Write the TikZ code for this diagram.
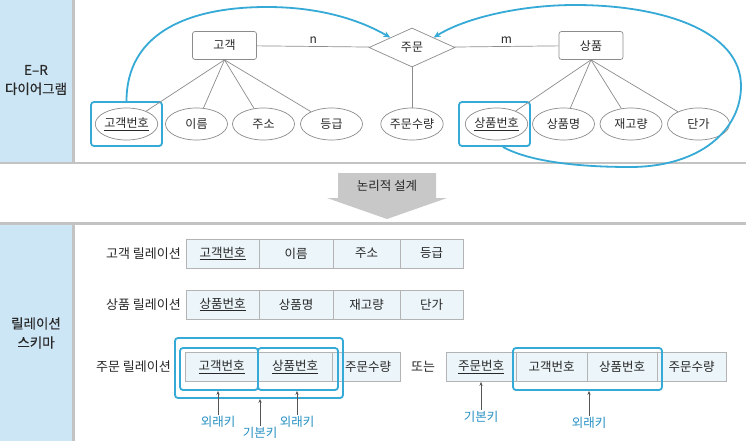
\documentclass[tikz,border=0pt]{standalone}
\usepackage{fontspec}
\setmainfont{Noto Sans CJK KR}
\newfontfamily\bandfont[FakeBold=0.3]{Noto Sans CJK KR}
\usetikzlibrary{shapes.geometric,arrows.meta}
\definecolor{band}{RGB}{204,230,246}
\definecolor{sepgray}{RGB}{195,195,195}
\definecolor{kblue}{RGB}{54,170,214}
\definecolor{ktext}{RGB}{40,40,40}
\definecolor{cellfill}{RGB}{236,245,249}
\definecolor{cellline}{RGB}{180,180,180}
\definecolor{lblue}{RGB}{41,146,196}
\definecolor{erline}{RGB}{140,140,140}
\definecolor{bigarrow}{RGB}{200,200,200}
\definecolor{smallarrow}{RGB}{85,85,85}
\tikzset{
  base/.style={font=\fontsize{12}{14}\selectfont, text=ktext},
  entity/.style={base, draw=erline, fill=white, rounded corners=2.5pt, minimum width=64, minimum height=28, inner sep=0pt, line width=0.7pt},
  relship/.style={base, diamond, aspect=2.2, draw=erline, fill=white, minimum width=86, minimum height=39, inner sep=0pt, line width=0.7pt},
  attr/.style={base, ellipse, draw=erline, fill=white, minimum width=62, minimum height=32, inner sep=0pt, line width=0.7pt},
  erl/.style={draw=erline, line width=0.7pt},
  keybox/.style={draw=kblue, line width=1.8pt, rounded corners=3pt, inner sep=0pt},
  loopline/.style={draw=kblue, line width=1.8pt, -{Stealth[length=7pt,width=6pt]}},
  cell/.style={base, draw=cellline, fill=cellfill, minimum height=29, inner sep=0pt, line width=0.8pt, font=\fontsize{12.5}{14}\selectfont},
  rellab/.style={base, anchor=east, inner sep=0pt, font=\fontsize{13}{15}\selectfont},
  keylab/.style={text=lblue, font=\fontsize{12.5}{14}\selectfont, inner sep=1.5pt},
  keyarrow/.style={draw=smallarrow, line width=0.6pt, -{Stealth[length=4pt,width=3.2pt]}},
  bandlab/.style={font=\bandfont\fontsize{13.5}{19}\selectfont, text=ktext, align=center},
  cardlab/.style={base, inner sep=1pt}
}
\begin{document}
\begin{tikzpicture}[x=1pt,y=-1pt]
\useasboundingbox (0,0) rectangle (746,441);
\fill[white] (0,0) rectangle (746,441);
% bands and separators
\fill[band] (0,0) rectangle (72,163);
\fill[band] (0,224) rectangle (72,441);
\fill[sepgray] (72,0) rectangle (74.5,163);
\fill[sepgray] (72,224) rectangle (74.5,441);
\fill[sepgray] (0,161.8) rectangle (746,164.2);
\fill[sepgray] (0,222.3) rectangle (746,224.7);
\node[bandlab] (erband) at (36,80) {E–R\\다이어그램};
\node[bandlab] (rsband) at (36,333) {릴레이션\\스키마};

% E-R diagram
\node[entity] (cust) at (224.5,45.5) {고객};
\node[entity] (prod) at (591,45.5) {상품};
\node[relship] (rel) at (412,47.5) {주문};
\node[attr] (a1) at (126.5,124) {\underline{고객번호}};
\node[attr] (a2) at (196.5,124) {이름};
\node[attr] (a3) at (263.5,124) {주소};
\node[attr] (a4) at (331.5,124) {등급};
\node[attr] (oq) at (412,124) {주문수량};
\node[attr] (b1) at (496.5,124) {\underline{상품번호}};
\node[attr] (b2) at (563.5,124) {상품명};
\node[attr] (b3) at (631,124) {재고량};
\node[attr] (b4) at (698.5,124) {단가};
\node[keybox, minimum width=71, minimum height=44] (k1) at (126.5,124) {};
\node[keybox, minimum width=71, minimum height=44] (k2) at (494.5,124) {};

\draw[erl] (cust) -- node[cardlab, above=2pt] {n} (rel);
\draw[erl] (rel) -- node[cardlab, above=2pt] {m} (prod);
\draw[erl] (rel) -- (oq);
\foreach \t in {a1,a2,a3,a4} \draw[erl] (cust.south) -- (\t);
\foreach \t in {b1,b2,b3,b4} \draw[erl] (prod.south) -- (\t);

\draw[loopline] (k1.north) .. controls (126.5,35) and (185,7) .. (267,7)
  .. controls (320,7) and (360,20) .. (rel.north west);
\draw[loopline] (k2.290) .. controls (530,162) and (580,167) .. (630,167)
  .. controls (700,167) and (741,130) .. (741,86)
  .. controls (741,30) and (660,5) .. (575,5)
  .. controls (520,5) and (465,18) .. (rel.north east);

% logical design arrow
\fill[bigarrow] (338,173) -- (436,173) -- (436,198) -- (447,198) -- (387,219) -- (327,198) -- (338,198) -- cycle;
\node[base, font=\fontsize{12.5}{14}\selectfont] (design) at (387,186) {논리적 설계};

% relation schema
\node[rellab] (lc) at (181,253.5) {고객 릴레이션};
\node[cell, minimum width=73] (c1) at (222.5,253.5) {\underline{고객번호}};
\node[cell, minimum width=74] (c2) at (296,253.5) {이름};
\node[cell, minimum width=67] (c3) at (366.5,253.5) {주소};
\node[cell, minimum width=63] (c4) at (431.5,253.5) {등급};

\node[rellab] (lp) at (181,304.5) {상품 릴레이션};
\node[cell, minimum width=73] (p1) at (222.5,304.5) {\underline{상품번호}};
\node[cell, minimum width=74] (p2) at (296,304.5) {상품명};
\node[cell, minimum width=67] (p3) at (366.5,304.5) {재고량};
\node[cell, minimum width=63] (p4) at (431.5,304.5) {단가};

\node[rellab] (lo) at (171,367) {주문 릴레이션};
\node[cell, minimum width=73] (d1) at (221.5,367) {\underline{고객번호}};
\node[cell, minimum width=74] (d2) at (295,367) {\underline{상품번호}};
\node[cell, minimum width=68] (d3) at (366,367) {\hspace*{4pt}주문수량};
\node[base, font=\fontsize{13}{15}\selectfont] (or) at (423,367) {또는};
\node[cell, minimum width=70] (e1) at (481,367) {\underline{주문번호}};
\node[cell, minimum width=71] (e2) at (551.5,367) {고객번호};
\node[cell, minimum width=70] (e3) at (622,367) {상품번호};
\node[cell, minimum width=69] (e4) at (691.5,367) {주문수량};

\node[keybox, minimum width=168, minimum height=60] (o1) at (259,368) {};
\node[keybox, minimum width=78, minimum height=42] (i1) at (219,369) {};
\node[keybox, minimum width=80, minimum height=42] (i2) at (298,369) {};
\node[keybox, minimum width=149, minimum height=42] (f1) at (587.5,369) {};

\node[keylab] (fk1) at (218,422) {외래키};
\node[keylab] (pk1) at (260,433) {기본키};
\node[keylab] (fk2) at (297,422) {외래키};
\node[keylab] (pk2) at (481,417) {기본키};
\node[keylab] (fk3) at (589,423) {외래키};
\draw[keyarrow] (fk1.north) -- (fk1.north |- i1.south);
\draw[keyarrow] (pk1.north) -- (pk1.north |- o1.south);
\draw[keyarrow] (fk2.north) -- (fk2.north |- i2.south);
\draw[keyarrow] (pk2.north) -- (pk2.north |- e1.south);
\draw[keyarrow] (fk3.north) -- (fk3.north |- f1.south);
\end{tikzpicture}
\end{document}
